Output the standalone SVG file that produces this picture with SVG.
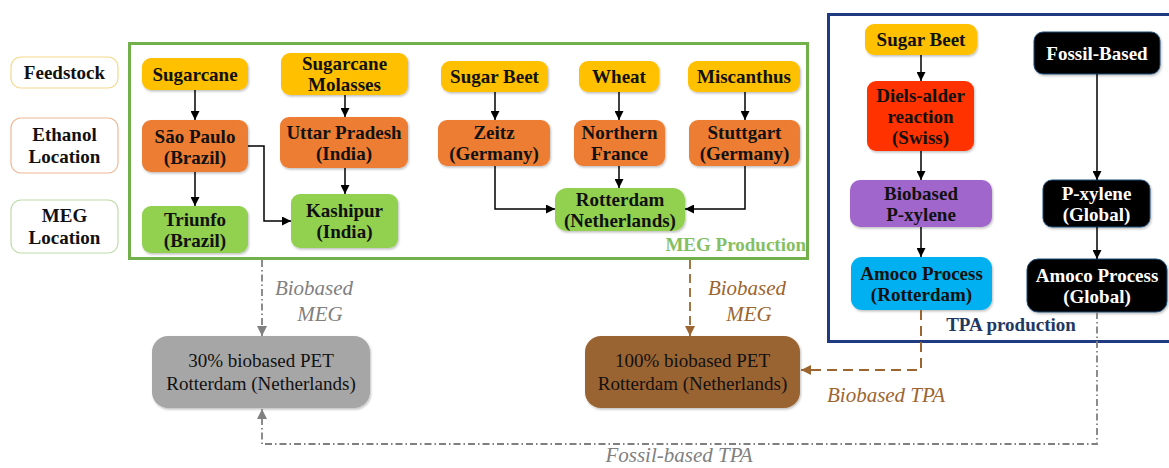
<svg xmlns="http://www.w3.org/2000/svg" width="1169" height="468" viewBox="0 0 1169 468" font-family="'Liberation Serif', 'DejaVu Serif', serif">
<defs>
<filter id="sh" x="-10%" y="-10%" width="125%" height="130%"><feDropShadow dx="1" dy="1.5" stdDeviation="1.2" flood-color="#000" flood-opacity="0.25"/></filter>
<marker id="ab" viewBox="0 0 10 10" refX="10" refY="5" markerWidth="9" markerHeight="9" markerUnits="userSpaceOnUse" orient="auto"><path d="M0,0 L10,5 L0,10 Z" fill="#000"/></marker>
<marker id="ag" viewBox="0 0 10 10" refX="10" refY="5" markerWidth="10" markerHeight="10" markerUnits="userSpaceOnUse" orient="auto"><path d="M0,0 L10,5 L0,10 Z" fill="#808080"/></marker>
<marker id="ar" viewBox="0 0 10 10" refX="10" refY="5" markerWidth="10" markerHeight="10" markerUnits="userSpaceOnUse" orient="auto"><path d="M0,0 L10,5 L0,10 Z" fill="#9C6530"/></marker>
</defs>
<style>
text{font-family:'Liberation Serif','DejaVu Serif',serif;font-size:19px;text-anchor:middle}
.b{font-weight:bold;fill:#111}
.w{font-weight:bold;fill:#fff}
.n rect{filter:url(#sh)}
.y{fill:#FFC000}.o{fill:#ED7D31}.g{fill:#92D050}.r{fill:#FF3300}.p{fill:#A066CC}.c{fill:#00B0F0}.k{fill:#000;stroke:#1F4E79;stroke-width:1}
.leg{fill:#fff;stroke-width:1.2}
.c1{stroke:#000;stroke-width:1.5;fill:none;marker-end:url(#ab)}
.it{font-style:italic;font-size:21px}
</style>
<rect id="megframe" x="129.5" y="43.5" width="678" height="215" fill="none" stroke="#72B04B" stroke-width="3"/>
<rect id="tpaframe" x="828.5" y="14.5" width="345" height="327" fill="none" stroke="#1F3A80" stroke-width="3"/>
<text x="806" y="251" style="text-anchor:end;font-weight:bold;fill:#86BF62">MEG Production</text>
<text x="1011" y="331" style="font-weight:bold;fill:#1F3864">TPA production</text>
<g id="leg-feedstock"><rect class="leg" x="11" y="57" width="107" height="31" rx="10" stroke="#F3D98C"/><text class="b" x="64.5" y="79">Feedstock</text></g>
<g id="leg-ethanol"><rect class="leg" x="11" y="118" width="107" height="55" rx="10" stroke="#EFB896" fill="#FEF7F4"/><text class="b" x="64.5" y="141">Ethanol</text><text class="b" x="64.5" y="163">Location</text></g>
<g id="leg-meg"><rect class="leg" x="11" y="200" width="107" height="53" rx="10" stroke="#BEDCAA" fill="#FAFDF8"/><text class="b" x="64.5" y="222">MEG</text><text class="b" x="64.5" y="244">Location</text></g>
<g id="sugarcane" class="n"><rect class="y" x="142" y="58" width="106" height="32" rx="9"/><text class="b" x="195" y="81">Sugarcane</text></g>
<g id="molasses" class="n"><rect class="y" x="281" y="53" width="127" height="42" rx="9"/><text class="b" x="344.5" y="70">Sugarcane</text><text class="b" x="344.5" y="91">Molasses</text></g>
<g id="saopaulo" class="n"><rect class="o" x="142" y="120" width="106" height="52" rx="9"/><text class="b" x="195" y="143">São Paulo</text><text class="b" x="195" y="164">(Brazil)</text></g>
<g id="uttar" class="n"><rect class="o" x="280" y="117" width="128" height="51" rx="9"/><text class="b" x="344" y="139">Uttar Pradesh</text><text class="b" x="344" y="160">(India)</text></g>
<g id="triunfo" class="n"><rect class="g" x="142" y="206" width="106" height="47" rx="9"/><text class="b" x="195" y="226">Triunfo</text><text class="b" x="195" y="247">(Brazil)</text></g>
<g id="kashipur" class="n"><rect class="g" x="291" y="194" width="107" height="54" rx="9"/><text class="b" x="344.5" y="217">Kashipur</text><text class="b" x="344.5" y="238">(India)</text></g>
<g id="sugarbeet1" class="n"><rect class="y" x="441" y="61" width="107" height="31" rx="9"/><text class="b" x="494.5" y="83">Sugar Beet</text></g>
<g id="wheat" class="n"><rect class="y" x="579" y="61" width="80" height="31" rx="9"/><text class="b" x="619" y="83">Wheat</text></g>
<g id="miscanthus" class="n"><rect class="y" x="688" y="61" width="112" height="31" rx="9"/><text class="b" x="744" y="83">Miscanthus</text></g>
<g id="zeitz" class="n"><rect class="o" x="438" y="120" width="112" height="46" rx="9"/><text class="b" x="494" y="139">Zeitz</text><text class="b" x="494" y="160">(Germany)</text></g>
<g id="nfrance" class="n"><rect class="o" x="574" y="120" width="91" height="46" rx="9"/><text class="b" x="619.5" y="139">Northern</text><text class="b" x="619.5" y="160">France</text></g>
<g id="stuttgart" class="n"><rect class="o" x="689" y="120" width="111" height="46" rx="9"/><text class="b" x="744.5" y="139">Stuttgart</text><text class="b" x="744.5" y="160">(Germany)</text></g>
<g id="rotterdam" class="n"><rect class="g" x="555" y="188" width="130" height="43" rx="12"/><text class="b" x="620" y="206">Rotterdam</text><text class="b" x="620" y="227">(Netherlands)</text></g>
<g id="sugarbeet2" class="n"><rect class="y" x="865" y="24" width="112" height="31" rx="9"/><text class="b" x="921" y="46">Sugar Beet</text></g>
<g id="diels" class="n"><rect class="r" x="867" y="81" width="107" height="70" rx="9"/><text class="b" x="920.5" y="102">Diels-alder</text><text class="b" x="920.5" y="123">reaction</text><text class="b" x="920.5" y="144">(Swiss)</text></g>
<g id="fossil" class="n"><rect class="k" x="1034" y="32" width="126" height="42" rx="9"/><text class="w" x="1097" y="60">Fossil-Based</text></g>
<g id="biopx" class="n"><rect class="p" x="850" y="180" width="142" height="47" rx="10"/><text class="b" x="921" y="200">Biobased</text><text class="b" x="921" y="221">P-xylene</text></g>
<g id="pxglobal" class="n"><rect class="k" x="1043" y="180" width="107" height="47" rx="9"/><text class="w" x="1096.5" y="200">P-xylene</text><text class="w" x="1096.5" y="221">(Global)</text></g>
<g id="amocorot" class="n"><rect class="c" x="851" y="257" width="141" height="53" rx="11"/><text class="b" x="921.5" y="280">Amoco Process</text><text class="b" x="921.5" y="301">(Rotterdam)</text></g>
<g id="amocoglob" class="n"><rect class="k" x="1027" y="259" width="140" height="53" rx="11"/><text class="w" x="1097" y="282">Amoco Process</text><text class="w" x="1097" y="303">(Global)</text></g>
<g id="pet30" class="n"><rect x="152" y="336" width="218" height="72" rx="16" fill="#A6A6A6"/><text x="261" y="367" style="fill:#111">30% biobased PET</text><text x="261" y="390" style="fill:#111">Rotterdam (Netherlands)</text></g>
<g id="pet100" class="n"><rect x="585" y="336" width="215" height="72" rx="16" fill="#9A6330"/><text x="692.5" y="367" style="fill:#111">100% biobased PET</text><text x="692.5" y="390" style="fill:#111">Rotterdam (Netherlands)</text></g>
<g id="connectors">
<path class="c1" d="M195,90 V120"/>
<path class="c1" d="M345,95 V117"/>
<path class="c1" d="M195,172 V206"/>
<path class="c1" d="M345,168 V194"/>
<path class="c1" d="M248,146 H264 V221 H291"/>
<path class="c1" d="M495,92 V120"/>
<path class="c1" d="M619,92 V120"/>
<path class="c1" d="M745,92 V120"/>
<path class="c1" d="M495,166 V209 H555"/>
<path class="c1" d="M619,166 V188"/>
<path class="c1" d="M745,166 V209 H685"/>
<path class="c1" d="M921,55 V81"/>
<path class="c1" d="M921,151 V180"/>
<path class="c1" d="M921,227 V257"/>
<path class="c1" d="M1097,74 V180"/>
<path class="c1" d="M1097,227 V259"/>
<path d="M262,260 V336" fill="none" stroke="#808080" stroke-width="1.8" stroke-dasharray="7,3,1.5,3" marker-end="url(#ag)"/>
<path d="M690,260 V336" fill="none" stroke="#9C6530" stroke-width="1.8" stroke-dasharray="9,5" marker-end="url(#ar)"/>
<path d="M921,310 V370 H801" fill="none" stroke="#9C6530" stroke-width="2" stroke-dasharray="10,6" marker-end="url(#ar)"/>
<path d="M1097,312 V444 H262 V409" fill="none" stroke="#808080" stroke-width="1.8" stroke-dasharray="7,3,1.5,3" marker-end="url(#ag)"/>
<text class="it" x="314" y="295" style="fill:#808080">Biobased</text>
<text class="it" x="320" y="321" style="fill:#808080">MEG</text>
<text class="it" x="747" y="295" style="fill:#9C6530">Biobased</text>
<text class="it" x="749" y="321" style="fill:#9C6530">MEG</text>
<text class="it" x="886" y="402" style="fill:#9C6530">Biobased TPA</text>
<text class="it" x="679" y="462" style="fill:#808080">Fossil-based TPA</text>
</g>
</svg>
